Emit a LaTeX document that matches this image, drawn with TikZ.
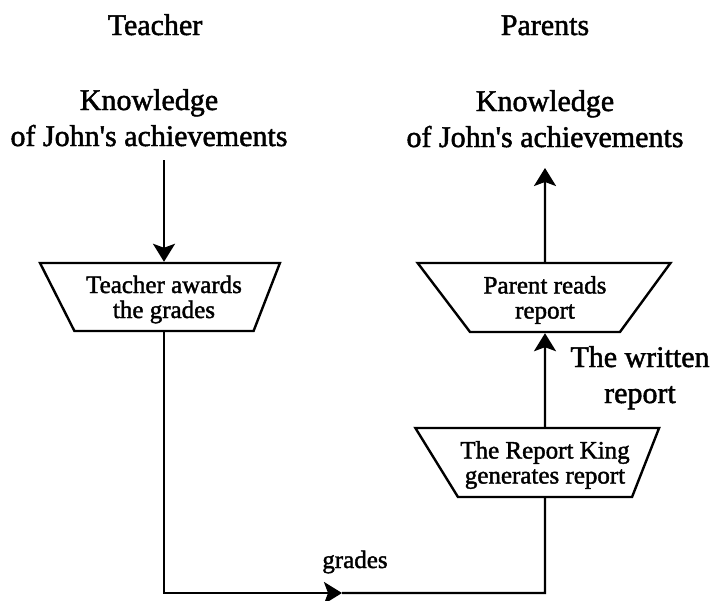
\documentclass[tikz,border=0pt]{standalone}
\usepackage{fontspec}
\setmainfont{Liberation Serif}[BoldFont={Liberation Serif}, BoldFeatures={FakeBold=1.6}]
\usetikzlibrary{shapes.geometric,arrows.meta}
\newcommand{\headfont}{\fontsize{30}{36}\selectfont\bfseries}
\newcommand{\stepfont}{\fontsize{25}{25}\selectfont\bfseries}
\tikzset{
  flowbox/.style={draw, trapezium, shape border rotate=180, trapezium stretches=true,
    inner sep=0pt, align=center, font=\stepfont, text height=48pt, text depth=6pt},
  headtext/.style={align=center, font=\headfont, inner sep=0pt, anchor=base},
}
\begin{document}
\begin{tikzpicture}[x=1pt, y=-1pt, line width=2.4pt, line join=miter, >={Stealth[length=18pt,width=22pt,inset=4pt]}]
  \useasboundingbox (0,0) rectangle (715,600);
  % column headings
  \node[headtext] (teachhead) at (155,35) {Teacher};
  \node[headtext] (parenthead) at (545,35) {Parents};
  \node[headtext] (knowteach) at (149,146) {Knowledge\\of John\textquotesingle s achievements};
  \node[headtext] (knowparent) at (545,147) {Knowledge\\of John\textquotesingle s achievements};
  % the three steps
  \node[flowbox, minimum width=240pt, minimum height=68pt,
        trapezium left angle=67, trapezium right angle=61] (awards) at (164,297) {Teacher awards\\the grades};
  \node[flowbox, minimum width=253pt, minimum height=69pt,
        trapezium left angle=52.5, trapezium right angle=51.5] (reads) at (545,297.5) {Parent reads\\report};
  \node[flowbox, minimum width=244pt, minimum height=69pt,
        trapezium left angle=64, trapezium right angle=52.5] (king) at (545,462.5) {The Report King\\generates report};
  \path
  (164,160) coordinate (awardsin)
  (545,168) coordinate (readsout)
  (164,593) coordinate (lowleft)
  (342,593) coordinate (gradestip)
  (545,593) coordinate (lowright)
  ;
  \draw [->] (awardsin) -- (awards);
  \draw [->] (awards) -- (lowleft) -- (gradestip);
  \draw (gradestip) -- (lowright) -- (king);
  \draw [->] (king) -- (reads);
  \draw [->] (reads) -- (readsout);
  \node[anchor=base, font=\stepfont, inner sep=0pt] (gradeslabel) at (355,568) {grades};
  \node[headtext] (written) at (640,403) {The written\\report};
\end{tikzpicture}
\end{document}
